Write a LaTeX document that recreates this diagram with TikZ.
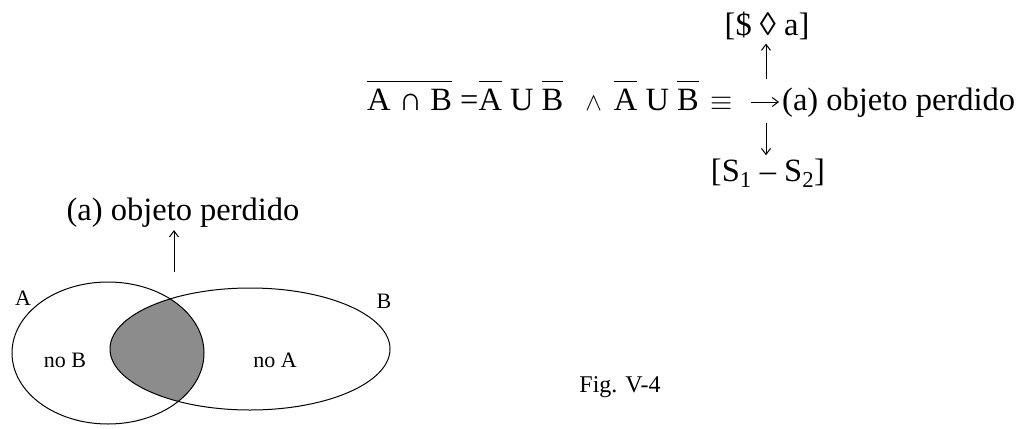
\documentclass[tikz,border=0pt]{standalone}
\usepackage{graphicx}
\usepackage{fontspec}
\setmainfont{Liberation Serif}
\usetikzlibrary{arrows.meta}

\newcommand\ovl[1]{$\overline{\mbox{\strut #1}}$}

\begin{document}
\begin{tikzpicture}[%
    x=1pt,y=-1pt,%
    big/.style={font=\fontsize{32.5}{39}\selectfont,inner sep=3pt},%
    small/.style={font=\fontsize{22}{26}\selectfont,inner sep=0pt},%
    glyph/.style={line width=1pt,-{Straight Barb[length=6pt,width=9pt]}},%
    venn/.style={draw,line width=1pt},%
]%
    \useasboundingbox (0,0) rectangle (1024,428);

    % formula with its three arrows
    \node[big,anchor=base west] (formula) at (364,110)
        {\ovl{A ∩ B} =\ovl{A} U \ovl{B}\hspace{22pt}{\fontsize{23}{26}\selectfont$\wedge$}\hspace{12pt}\ovl{A} U \ovl{B}\hspace{12pt}\scalebox{1.15}{$\equiv$}};
    \node[big,anchor=base west] (lost) at (779,110) {(a) objeto perdido};
    \node[big,anchor=base] (diamond) at (767,36) {[\$ ◊ a]};
    \node[big,anchor=base] (subs) at (768,181) {[S\textsubscript{1} – S\textsubscript{2}]};
    \coordinate (rtail) at (751,102);
    \coordinate (uptail) at (766,79);
    \coordinate (downtail) at (766,123);
    \draw[glyph] (rtail) -- (rtail -| lost.west);
    \draw[glyph] (uptail) -- (uptail |- diamond.south);
    \draw[glyph] (downtail) -- (downtail |- subs.north);

    % Venn diagram
    \node[big,anchor=base] (lost2) at (183,220) {(a) objeto perdido};
    \coordinate (venntop) at (174,272);
    \draw[glyph] (venntop) -- (venntop |- lost2.south);
    \begin{scope}
        \clip (108,353) ellipse [x radius=96,y radius=71];
        \fill[black!45] (250,349) ellipse [x radius=140,y radius=61];
    \end{scope}
    \draw[venn] (108,353) ellipse [x radius=96,y radius=71];
    \draw[venn] (250,349) ellipse [x radius=140,y radius=61];
    \node[small,anchor=base] (labA) at (23,305) {A};
    \node[small,anchor=base] (labB) at (384,308) {B};
    \node[small,anchor=base] (noB) at (65,367) {no B};
    \node[small,anchor=base] (noA) at (275,367) {no A};

    \node[font=\fontsize{24}{28}\selectfont,anchor=base] (fig) at (620,392) {Fig. V-4};
\end{tikzpicture}
\end{document}
